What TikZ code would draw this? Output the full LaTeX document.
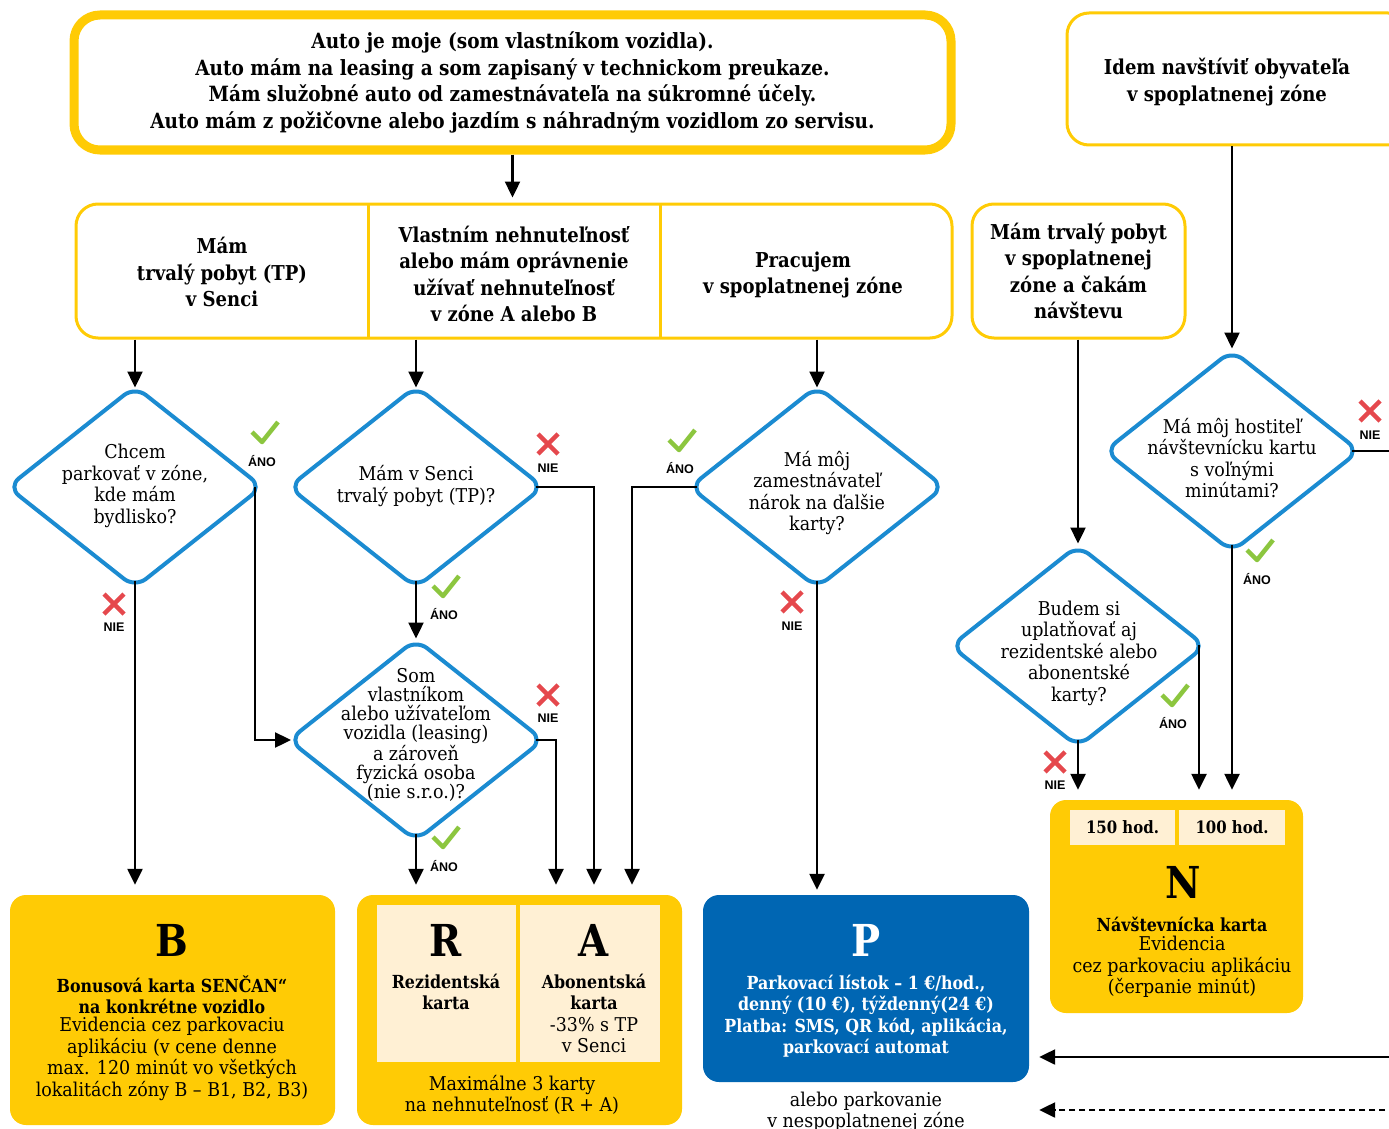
\documentclass[tikz,border=0pt]{standalone}
\usepackage{fontspec}
\setmainfont{DejaVu Serif}[FakeStretch=0.92]
\newfontfamily\headfont{DejaVu Serif}[FakeStretch=0.88]
\newfontfamily\tagfont{Liberation Sans}
\usetikzlibrary{shapes.geometric,arrows.meta}
\definecolor{zlta}{HTML}{FFCB05}
\definecolor{svetla}{HTML}{FFF0D4}
\definecolor{modra}{HTML}{1B8BD1}
\definecolor{tmava}{HTML}{0066B3}
\definecolor{zelena}{HTML}{8CC63F}
\definecolor{cervena}{HTML}{E5484D}
\tikzset{
  tok/.style={line width=2.4pt, -{Triangle[width=15pt,length=16pt]}},
  otazka/.style={diamond, draw=modra, line width=4pt, rounded corners=14pt, minimum width=250pt, minimum height=197pt, inner sep=0pt, outer sep=-5pt},
  otext/.style={font=\fontsize{19}{21.5}\selectfont, align=center},
  ramik/.style={draw=zlta, line width=3pt, rounded corners=22pt},
  htext/.style={font=\headfont\bfseries\fontsize{20.5}{26.5}\selectfont, align=center},
  karta/.style={fill=zlta, rounded corners=16pt, inner sep=0pt},
  pole/.style={fill=svetla, inner sep=0pt},
  pismeno/.style={font=\headfont\bfseries\fontsize{44}{44}\selectfont},
  kbold/.style={font=\headfont\bfseries\fontsize{18}{21.5}\selectfont, align=center},
  ktext/.style={font=\fontsize{19}{21.5}\selectfont, align=center},
  tag/.style={font=\tagfont\bfseries\fontsize{12.5}{13}\selectfont},
  fajka/.pic={\draw[zelena, line width=4.5pt, line join=round] (-13,-1) -- (-3,9) -- (13,-11);},
  krizik/.pic={\draw[cervena, line width=4.5pt] (-10,-10) -- (10,10) (-10,10) -- (10,-10);}
}
\begin{document}
\begin{tikzpicture}[x=1pt,y=-1pt]
\useasboundingbox (0,0) rectangle (1389,1129);
\node[draw=zlta, line width=9pt, rounded corners=26pt, minimum width=877pt, minimum height=135pt, htext, font=\headfont\bfseries\fontsize{21}{26.5}\selectfont] (auto) at (512.5,82.5) {Auto je moje (som vlastníkom vozidla).\\Auto mám na leasing a som zapisaný v technickom preukaze.\\Mám služobné auto od zamestnávateľa na súkromné účely.\\Auto mám z požičovne alebo jazdím s náhradným vozidlom zo servisu.};
\node[ramik, minimum width=876pt, minimum height=134pt] (rad) at (514,271) {};
\foreach \x in {368,660} \draw[zlta, line width=3pt] (\x,204) -- (\x,338);
\node[htext] (tp) at (222,272) {Mám\\trvalý pobyt (TP)\\v Senci};
\node[htext] (nehn) at (514,274) {Vlastním nehnuteľnosť\\alebo mám oprávnenie\\užívať nehnuteľnosť\\v zóne A alebo B};
\node[htext] (praca) at (803,275) {Pracujem\\v spoplatnenej zóne};
\node[ramik, minimum width=213pt, minimum height=134pt, htext] (cakam) at (1078.5,271) {Mám trvalý pobyt\\v spoplatnenej\\zóne a čakám\\návštevu};
\node[ramik, minimum width=343pt, minimum height=132pt] (idem) at (1238.5,79) {};
\node[htext] (idemt) at (1227,82) {Idem navštíviť obyvateľa\\v spoplatnenej zóne};
\node[otazka] (d1) at (135,487) {};
\node[otext] (d1t) at (135,486) {Chcem\\parkovať v zóne,\\kde mám\\bydlisko?};
\node[otazka] (d2) at (416,487) {};
\node[otext] (d2t) at (416,486) {Mám v Senci\\trvalý pobyt (TP)?};
\node[otazka] (d3) at (817,487) {};
\node[otext] (d3t) at (817,493) {Má môj\\zamestnávateľ\\nárok na ďalšie\\karty?};
\node[otazka] (d4) at (1232,451) {};
\node[otext] (d4t) at (1232,458) {Má môj hostiteľ\\návštevnícku kartu\\s voľnými\\minútami?};
\node[otazka] (d5) at (1078,646) {};
\node[otext] (d5t) at (1079,653) {Budem si\\uplatňovať aj\\rezidentské alebo\\abonentské\\karty?};
\node[otazka] (d6) at (416,740) {};
\node[otext, font=\fontsize{19}{19}\selectfont] (d6t) at (416,735) {Som\\vlastníkom\\alebo užívateľom\\vozidla (leasing)\\a zároveň\\fyzická osoba\\(nie s.r.o.)?};
\node[karta, minimum width=325pt, minimum height=230pt] (kartaB) at (172.5,1010) {};
\node[pismeno] (pB) at (172,940) {B};
\node[kbold] (bB) at (172,995) {Bonusová karta SENČAN“\\na konkrétne vozidlo};
\node[ktext] (tB) at (172,1059) {Evidencia cez parkovaciu\\aplikáciu (v cene denne\\max. 120 minút vo všetkých\\lokalitách zóny B – B1, B2, B3)};
\node[karta, minimum width=325pt, minimum height=230pt] (kartaRA) at (519.5,1010) {};
\node[pole, minimum width=139pt, minimum height=157pt] (poleR) at (446.5,983.5) {};
\node[pole, minimum width=140pt, minimum height=157pt] (poleA) at (590,983.5) {};
\node[pismeno] (pR) at (446,940) {R};
\node[pismeno] (pA) at (594,940) {A};
\node[kbold] (bR) at (446,992) {Rezidentská\\karta};
\node[kbold] (bA) at (594,992) {Abonentská\\karta};
\node[ktext] (tA) at (594,1035) {-33\% s TP\\v Senci};
\node[ktext] (tRA) at (512,1095) {Maximálne 3 karty\\na nehnuteľnosť (R + A)};
\node[karta, fill=tmava, minimum width=326pt, minimum height=187pt] (kartaP) at (866,988.5) {};
\node[pismeno, white] (pP) at (866,940) {P};
\node[kbold, white] (bP) at (866,1016) {Parkovací lístok – 1 €/hod.,\\denný (10 €), týždenný(24 €)\\Platba: SMS, QR kód, aplikácia,\\parkovací automat};
\node[ktext] (inak) at (866,1112) {alebo parkovanie\\v nespoplatnenej zóne};
\node[karta, minimum width=253pt, minimum height=213pt] (kartaN) at (1176.5,906.5) {};
\node[pole, minimum width=105pt, minimum height=35pt, kbold, font=\headfont\bfseries\fontsize{17}{20}\selectfont] (h150) at (1122.5,827.5) {150 hod.};
\node[pole, minimum width=106pt, minimum height=35pt, kbold, font=\headfont\bfseries\fontsize{17}{20}\selectfont] (h100) at (1232,827.5) {100 hod.};
\node[pismeno] (pN) at (1183,882) {N};
\node[kbold] (bN) at (1182,924) {Návštevnícka karta};
\node[ktext] (tN) at (1182,967) {Evidencia\\cez parkovaciu aplikáciu\\(čerpanie minút)};
\coordinate (okraj1) at (1395,452);
\coordinate (okraj2) at (1395,1057);
\coordinate (okraj3) at (1395,1110);
\draw[tok, shorten >=5pt] (auto.south) -- (auto.south |- rad.north);
\draw[tok, shorten >=6pt] (rad.south -| d1) -- (d1.north);
\draw[tok, shorten >=6pt] (rad.south -| d2) -- (d2.north);
\draw[tok, shorten >=6pt] (rad.south -| d3) -- (d3.north);
\draw[tok, shorten >=9pt] (cakam.south -| d5) -- (d5.north);
\draw[tok, shorten >=9pt] (idem.south -| d4) -- (d4.north);
\draw[tok, shorten >=5pt] (d1.east) |- (d6.west);
\draw[tok, shorten >=10pt] (d1.south) -- (kartaB.north -| d1);
\draw[tok, shorten >=8pt] (d2.south) -- (d6.north);
\draw[tok, shorten >=10pt] (d2.east) -| ([xshift=74.5pt]kartaRA.north);
\draw[tok, shorten >=10pt] (d6.east) -| ([xshift=36.5pt]kartaRA.north);
\draw[tok, shorten >=10pt] (d6.south) -- (kartaRA.north -| d6);
\draw[tok, shorten >=10pt] (d3.west) -| ([xshift=112.5pt]kartaRA.north);
\draw[tok, shorten >=5pt] (d3.south) -- (kartaP.north -| d3);
\draw[tok, shorten >=10pt] (d4.south) -- (kartaN.north -| d4);
\draw[tok, shorten >=10pt] (d5.east) -| ([xshift=22.5pt]kartaN.north);
\draw[tok, shorten >=10pt] (d5.south) -- (kartaN.north -| d5);
\draw[line width=2.4pt] (d4.east) -- (d4.east -| okraj1);
\draw[tok, shorten >=10pt] (okraj2) -- (kartaP.east |- okraj2);
\draw[tok, shorten >=10pt, dash pattern=on 6pt off 4pt] (okraj3) -- (kartaP.east |- okraj3);
\foreach \x/\y [count=\i] in {265/433,446/587,446/838,682/441,1260/551,1175/696} \pic at (\x,\y) {fajka};
\foreach \x/\y [count=\i] in {262/461,444/614,444/866,680/468,1257/579,1173/723} \node[tag] (ano\i) at (\x,\y) {ÁNO};
\foreach \x/\y [count=\i] in {114/604,548/444,548/695,792/602,1370/411,1055/762} \pic at (\x,\y) {krizik};
\foreach \x/\y [count=\i] in {114/627,548/468,548/718,792/626,1370/435,1055/785} \node[tag] (nie\i) at (\x,\y) {NIE};
\end{tikzpicture}
\end{document}
